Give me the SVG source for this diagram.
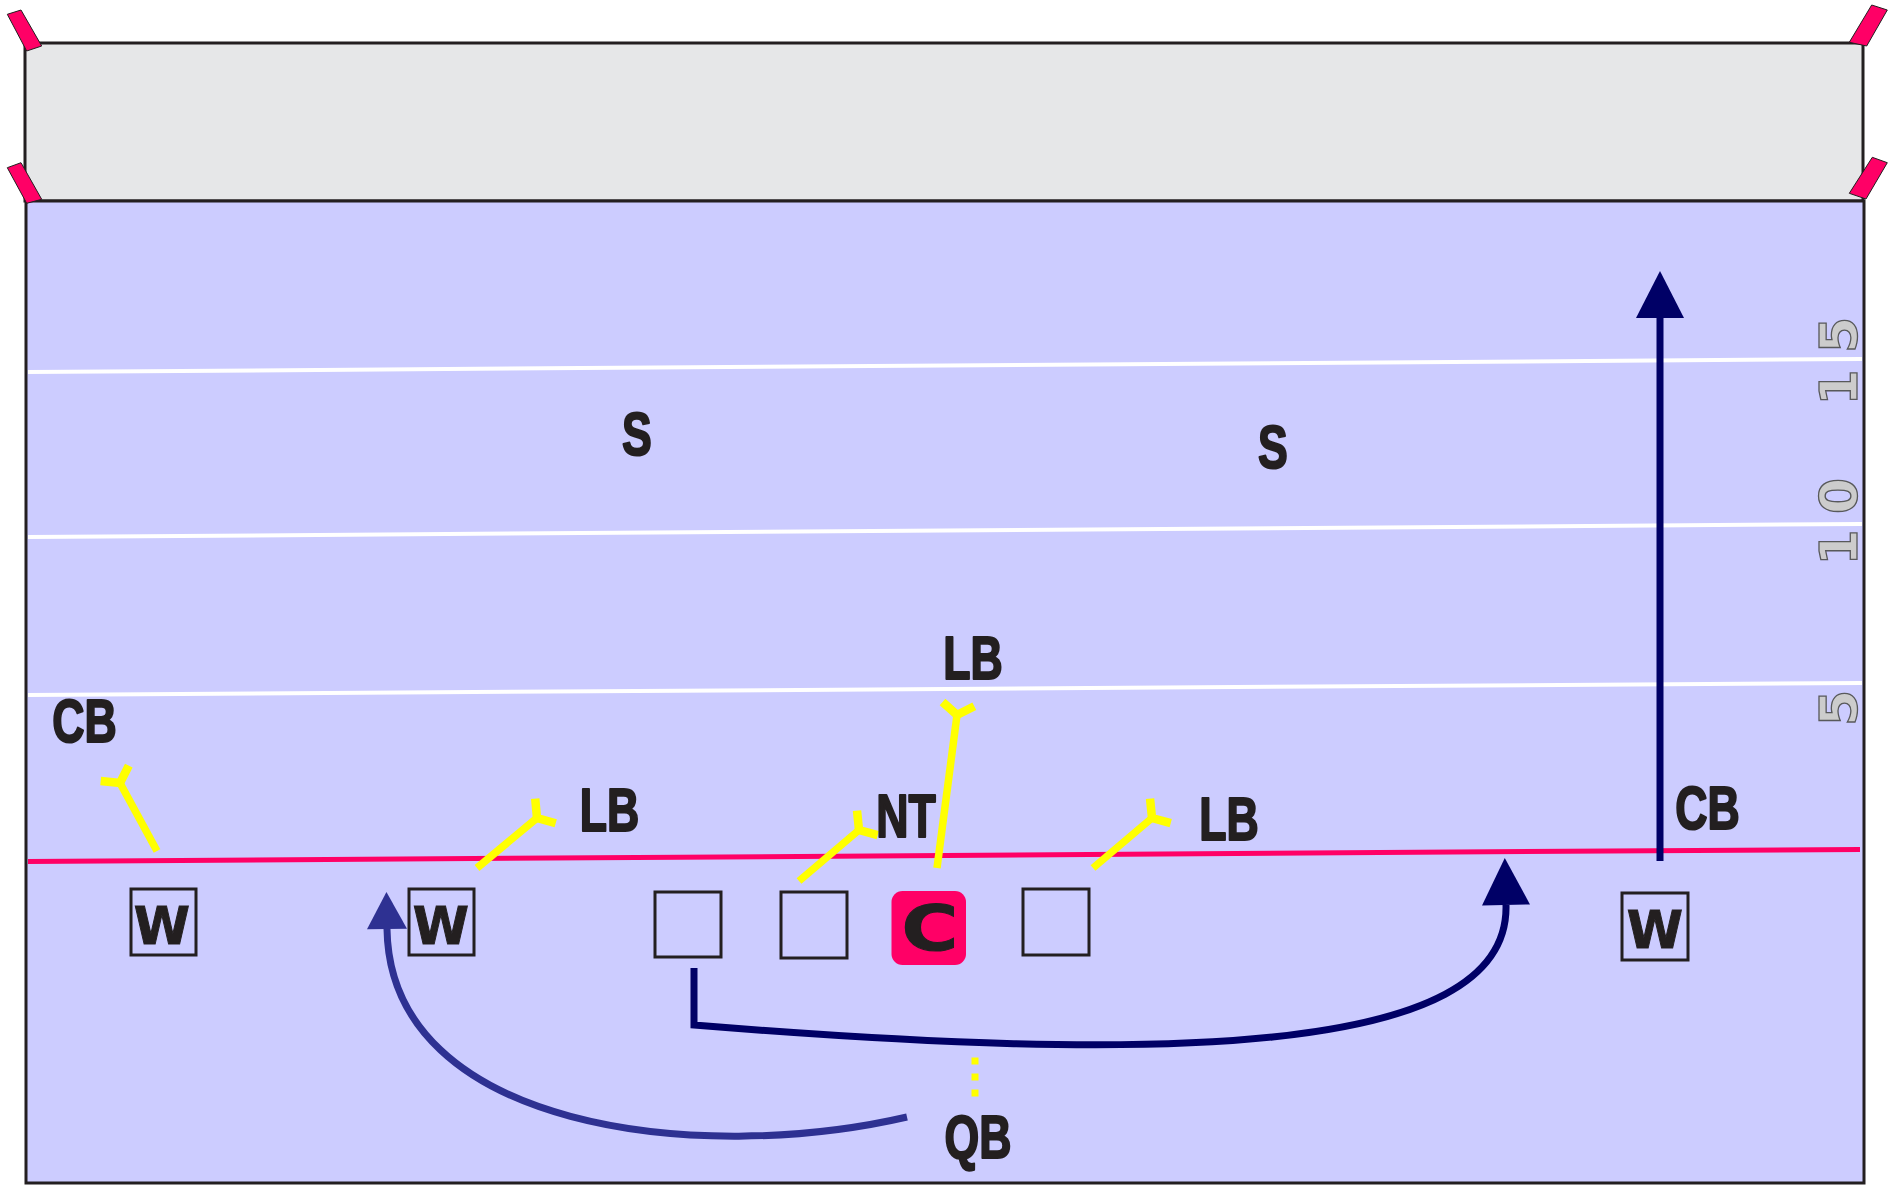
<svg xmlns="http://www.w3.org/2000/svg" width="1898" height="1185" viewBox="0 0 1898 1185">
<style>
.lbl{font-family:"Liberation Sans",Arial,sans-serif;font-weight:bold;font-size:62px;fill:#231f20;stroke:#231f20;stroke-width:2.2;stroke-linejoin:round;text-anchor:middle}
.big{font-family:"DejaVu Sans","Liberation Sans",sans-serif;font-weight:bold;fill:#231f20;stroke:#231f20;stroke-width:1;text-anchor:middle}
.yd{font-family:"DejaVu Sans","Liberation Sans",sans-serif;font-weight:bold;font-size:52px;fill:#cccccc;stroke:#58595b;stroke-width:1.3;text-anchor:middle}
.box{fill:none;stroke:#231f20;stroke-width:3}
.tab{fill:#ff0066;stroke:#231f20;stroke-width:1}
.yard{stroke:#ffffff;stroke-width:4;fill:none}
.def{stroke:#ffff00;stroke-width:7.5;fill:none;marker-end:url(#fork)}
</style>
<defs>
<marker id="fork" markerUnits="userSpaceOnUse" orient="auto" refX="0" refY="0" markerWidth="40" markerHeight="40" viewBox="-5 -20 20 40" overflow="visible">
<path d="M11,-16 L0,0 L11,16" fill="none" stroke="#ffff00" stroke-width="8.5" stroke-linejoin="miter"/>
</marker>
<marker id="navy" markerUnits="userSpaceOnUse" orient="auto" refX="0" refY="0" markerWidth="50" markerHeight="50" viewBox="0 -25 50 50" overflow="visible">
<path d="M0,-24 L47,0 L0,24 Z" fill="#000066"/>
</marker>
<marker id="indigo" markerUnits="userSpaceOnUse" orient="auto" refX="0" refY="0" markerWidth="40" markerHeight="42" viewBox="0 -21 40 42" overflow="visible">
<path d="M0,-20 L37,0 L0,20 Z" fill="#2e3192"/>
</marker>
</defs>

<g id="field">
<rect x="25" y="43" width="1838" height="158" fill="#e6e7e8" stroke="#231f20" stroke-width="3"/>
<rect x="26" y="201" width="1838" height="982" fill="#ccccff" stroke="#231f20" stroke-width="3"/>
<polygon class="tab" points="7.3,14.3 21,10 41.7,46 26.7,51"/>
<polygon class="tab" points="7.3,167.7 21,162.7 41.7,199.3 26.7,203.3"/>
<polygon class="tab" points="1849.3,42.3 1871.7,5 1887.3,10 1866.7,46"/>
<polygon class="tab" points="1849.3,193.3 1872.3,157.3 1887.3,162.7 1866,199"/>
<line class="yard" x1="28" y1="372" x2="1862" y2="359"/>
<line class="yard" x1="28" y1="537" x2="1862" y2="524"/>
<line class="yard" x1="28" y1="695" x2="1862" y2="683"/>
<line x1="28" y1="861.5" x2="1860" y2="849.4" stroke="#ff0066" stroke-width="5"/>
<text class="yd" transform="translate(1857,335) rotate(-90)">5</text>
<text class="yd" transform="translate(1857,387.5) rotate(-90)">1</text>
<text class="yd" transform="translate(1857,496) rotate(-90)">0</text>
<text class="yd" transform="translate(1857,547.5) rotate(-90)">1</text>
<text class="yd" transform="translate(1857,708) rotate(-90)">5</text>
</g>

<g id="connectors">
<line class="def" x1="157" y1="851" x2="120" y2="783"/>
<line class="def" x1="477" y1="868" x2="537" y2="818"/>
<line class="def" x1="799" y1="881" x2="859" y2="830"/>
<line class="def" x1="937" y1="868" x2="957" y2="715"/>
<line class="def" x1="1093" y1="868" x2="1152" y2="818"/>
<line x1="975" y1="1057.5" x2="975" y2="1097" stroke="#ffff00" stroke-width="7" stroke-dasharray="7 9"/>
<line x1="1660" y1="861" x2="1660" y2="318" stroke="#000066" stroke-width="7" marker-end="url(#navy)"/>
<path d="M694,968 L694,1025 C1150,1062 1510,1060 1506,905" fill="none" stroke="#000066" stroke-width="7" stroke-linejoin="miter" marker-end="url(#navy)"/>
<path d="M907,1117 C700,1165 390,1130 387,929" fill="none" stroke="#2e3192" stroke-width="7" marker-end="url(#indigo)"/>
</g>

<g id="wr-left"><rect class="box" x="131" y="889" width="65" height="66"/><text class="big" x="162" y="944" font-size="51">W</text></g>
<g id="wr-slot"><rect class="box" x="409" y="889" width="65" height="66"/><text class="big" x="441" y="944" font-size="51">W</text></g>
<g id="wr-right"><rect class="box" x="1622" y="893" width="66" height="67"/><text class="big" x="1655" y="948" font-size="51">W</text></g>
<g id="ol-1"><rect class="box" x="655" y="892" width="66" height="65"/></g>
<g id="ol-2"><rect class="box" x="781" y="892" width="66" height="66"/></g>
<g id="center"><rect x="891.5" y="891" width="74.5" height="74" rx="11" fill="#ff0066"/><text class="big" transform="translate(930,950) scale(1.25,1)" font-size="62">C</text></g>
<g id="ol-4"><rect class="box" x="1023" y="889" width="66" height="66"/></g>

<g id="s-left"><text class="lbl" transform="translate(637,455) scale(0.72,1)">S</text></g>
<g id="s-right"><text class="lbl" transform="translate(1273,468) scale(0.72,1)">S</text></g>
<g id="cb-left"><text class="lbl" transform="translate(84.5,742) scale(0.72,1)">CB</text></g>
<g id="lb-middle"><text class="lbl" transform="translate(973,679) scale(0.72,1)">LB</text></g>
<g id="lb-left"><text class="lbl" transform="translate(609.5,831) scale(0.72,1)">LB</text></g>
<g id="nt"><text class="lbl" transform="translate(906,837) scale(0.72,1)">NT</text></g>
<g id="lb-right"><text class="lbl" transform="translate(1229,840) scale(0.72,1)">LB</text></g>
<g id="cb-right"><text class="lbl" transform="translate(1707.5,829) scale(0.72,1)">CB</text></g>
<g id="qb"><text class="lbl" transform="translate(978,1158) scale(0.72,1)">QB</text></g>
</svg>
